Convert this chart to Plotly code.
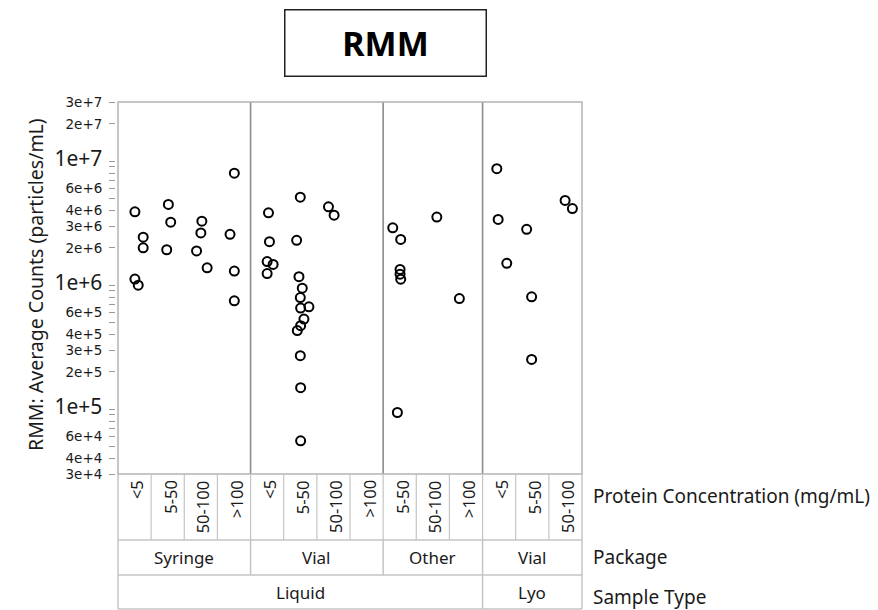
import plotly.graph_objects as go
import numpy as np

# ---------------- data ----------------
conc_labels = ["<5", "5-50", "50-100", ">100",
               "<5", "5-50", "50-100", ">100",
               "5-50", "50-100", ">100",
               "<5", "5-50", "50-100"]
package_labels = ["Syringe", "Vial", "Other", "Vial"]
package_spans = [(0, 3), (4, 7), (8, 10), (11, 13)]
sample_labels = ["Liquid", "Lyo"]
sample_spans = [(0, 10), (11, 13)]

# column index of each point, jitter within column, and value
point_col = [0, 0, 0, 0, 0,
             1, 1, 1,
             2, 2, 2, 2,
             3, 3, 3, 3,
             4, 4, 4, 4, 4,
             5, 5, 5, 5, 5, 5, 5, 5, 5, 5, 5, 5, 5,
             6, 6,
             8, 8, 8, 8, 8, 8,
             9,
             10,
             11, 11, 11,
             12, 12, 12,
             13, 13]
point_jitter = [0.01, 0.26, 0.26, 0.01, 0.11,
                0.02, 0.09, -0.03,
                0.03, 0.00, -0.13, 0.19,
                0.01, -0.12, 0.01, 0.01,
                0.04, 0.07, 0.00, 0.18, 0.00,
                0.00, -0.11, -0.04, 0.06, 0.00, 0.01, 0.26, 0.11, 0.01, -0.09, 0.00, 0.01, 0.01,
                -0.15, 0.02,
                -0.21, 0.03, 0.01, 0.01, 0.03, -0.07,
                0.12,
                -0.20,
                -0.07, -0.03, 0.23,
                -0.17, -0.02, -0.02,
                -0.01, 0.21]
point_value = [3.9e6, 2.44e6, 2.0e6, 1.12e6, 1.0e6,
               4.48e6, 3.22e6, 1.93e6,
               3.28e6, 2.64e6, 1.89e6, 1.38e6,
               8.0e6, 2.57e6, 1.30e6, 7.48e5,
               3.83e6, 2.24e6, 1.55e6, 1.47e6, 1.24e6,
               5.12e6, 2.30e6, 1.17e6, 9.46e5, 7.95e5, 6.53e5, 6.69e5, 5.33e5, 4.71e5, 4.30e5, 2.70e5, 1.49e5, 5.55e4,
               4.28e6, 3.67e6,
               2.9e6, 2.34e6, 1.34e6, 1.225e6, 1.117e6, 9.4e4,
               3.54e6,
               7.8e5,
               8.7e6, 3.39e6, 1.50e6,
               2.82e6, 8.06e5, 2.52e5,
               4.82e6, 4.15e6]

ytick_vals = [3e4, 4e4, 5e4, 6e4, 7e4, 8e4, 9e4,
              1e5, 2e5, 3e5, 4e5, 5e5, 6e5, 7e5, 8e5, 9e5,
              1e6, 2e6, 3e6, 4e6, 5e6, 6e6, 7e6, 8e6, 9e6,
              1e7, 2e7, 3e7]
ytick_text = ["3e+4", "4e+4", "", "6e+4", "", "", "",
              "1e+5", "2e+5", "3e+5", "4e+5", "", "6e+5", "", "", "",
              "1e+6", "2e+6", "3e+6", "4e+6", "", "6e+6", "", "", "",
              "1e+7", "2e+7", "3e+7"]
major_labels = {"1e+5", "1e+6", "1e+7"}

# ---------------- geometry ----------------
W, H = 878, 610
ML, MR, MT, MB = 115, 296, 102, 136
PW = W - ML - MR
PH = H - MT - MB
X0 = 118  # left of frame
X1 = ML + PW
NCOL = len(conc_labels)
FONT = "Noto Sans"
TXT = "#1a1a1a"


def px_x(p):
    return (p - ML) / PW


def px_y(p):
    return (MT + PH - p) / PH


def col_x(c):  # data column (float) -> paper x
    return px_x(X0 + (c + 0.5) * (X1 - X0) / NCOL)


xs = [c + j for c, j in zip(point_col, point_jitter)]

fig = go.Figure()
fig.add_trace(go.Scatter(
    x=xs, y=point_value, mode="markers",
    marker=dict(symbol="circle-open", size=9, color="black",
                line=dict(width=2, color="black")),
    showlegend=False, hoverinfo="y"))

ttext = [('<span style="font-size:21px;font-family:Noto Sans">%s</span>' % t)
         if t in major_labels else t
         for t in ytick_text]

fig.update_layout(
    width=W, height=H,
    margin=dict(l=ML, r=MR, t=MT, b=MB, pad=0),
    paper_bgcolor="white", plot_bgcolor="white",
    font=dict(family=FONT, color=TXT),
    xaxis=dict(domain=[px_x(X0), 1], range=[-0.5, NCOL - 0.5],
               showgrid=False, zeroline=False, showticklabels=False,
               ticks="", showline=False, fixedrange=True),
    yaxis=dict(type="log", range=[np.log10(3e4), np.log10(3e7)],
               anchor="free", position=0,
               tickvals=ytick_vals, ticktext=ttext,
               ticks="outside", ticklen=6, tickcolor="#999999", tickwidth=1,
               ticklabelstandoff=4,
               tickfont=dict(size=13.5, color=TXT, family="DejaVu Sans"),
               showgrid=False, zeroline=False, showline=False),
)

shapes = []
FRAME = "#b4b4b4"
SEP = "#8c8c8c"
TBL = "#c4c4c4"

# panel separators inside plot
for b in [3.5, 7.5, 10.5]:
    shapes.append(dict(type="line", xref="paper", yref="paper",
                       x0=col_x(b), x1=col_x(b), y0=0, y1=1,
                       line=dict(color=SEP, width=1.6)))
# frame
shapes.append(dict(type="rect", xref="paper", yref="paper",
                   x0=px_x(X0), x1=1, y0=0, y1=1,
                   line=dict(color=FRAME, width=1.5)))

# table below
row_b = [540, 575, 609]
ybot = px_y(row_b[2])
for yy in row_b:
    shapes.append(dict(type="line", xref="paper", yref="paper",
                       x0=px_x(X0), x1=1, y0=px_y(yy), y1=px_y(yy),
                       line=dict(color=TBL, width=1.5)))
# outer verticals
for xx in [px_x(X0), 1]:
    shapes.append(dict(type="line", xref="paper", yref="paper",
                       x0=xx, x1=xx, y0=0, y1=ybot,
                       line=dict(color=TBL, width=1.5)))
# concentration row separators
for c in range(NCOL - 1):
    b = c + 0.5
    shapes.append(dict(type="line", xref="paper", yref="paper",
                       x0=col_x(b), x1=col_x(b), y0=0, y1=px_y(row_b[0]),
                       line=dict(color=TBL, width=1.2)))
# package row separators
for (a, e) in package_spans[:-1]:
    b = e + 0.5
    shapes.append(dict(type="line", xref="paper", yref="paper",
                       x0=col_x(b), x1=col_x(b), y0=px_y(row_b[0]), y1=px_y(row_b[1]),
                       line=dict(color=TBL, width=1.5)))
for (a, e) in sample_spans[:-1]:
    b = e + 0.5
    shapes.append(dict(type="line", xref="paper", yref="paper",
                       x0=col_x(b), x1=col_x(b), y0=px_y(row_b[1]), y1=px_y(row_b[2]),
                       line=dict(color=TBL, width=1.5)))

fig.update_layout(shapes=shapes)

ann = []
for i, lab in enumerate(conc_labels):
    ann.append(dict(text=lab, xref="paper", yref="paper",
                    x=col_x(i) + 2 / PW, y=px_y(478), textangle=-90,
                    xanchor="center", yanchor="top", showarrow=False,
                    font=dict(size=16.5, color=TXT, family=FONT)))
for lab, (a, e) in zip(package_labels, package_spans):
    ann.append(dict(text=lab, xref="paper", yref="paper",
                    x=col_x((a + e) / 2), y=px_y(557),
                    xanchor="center", yanchor="middle", showarrow=False,
                    font=dict(size=17, color=TXT, family=FONT)))
for lab, (a, e) in zip(sample_labels, sample_spans):
    ann.append(dict(text=lab, xref="paper", yref="paper",
                    x=col_x((a + e) / 2), y=px_y(592),
                    xanchor="center", yanchor="middle", showarrow=False,
                    font=dict(size=17, color=TXT, family=FONT)))
for lab, yy in [("Protein Concentration (mg/mL)", 496), ("Package", 557), ("Sample Type", 597)]:
    ann.append(dict(text=lab, xref="paper", yref="paper",
                    x=px_x(591), y=px_y(yy),
                    xanchor="left", yanchor="middle", showarrow=False,
                    font=dict(size=19, color=TXT, family=FONT)))
# y title
ann.append(dict(text="RMM: Average Counts (particles/mL)", xref="paper", yref="paper",
                x=px_x(35), y=px_y(285), textangle=-90,
                xanchor="center", yanchor="middle", showarrow=False,
                font=dict(size=19.5, color=TXT, family=FONT)))
# title box
ann.append(dict(text="<b>RMM</b>", xref="paper", yref="paper",
                x=px_x(385), y=px_y(42.5), xanchor="center", yanchor="middle",
                showarrow=False, width=198, height=63, borderpad=1,
                bordercolor="#222222", borderwidth=1.5, bgcolor="white",
                font=dict(size=34, color="black", family=FONT)))
fig.update_layout(annotations=ann)

fig.write_html("out.html")
